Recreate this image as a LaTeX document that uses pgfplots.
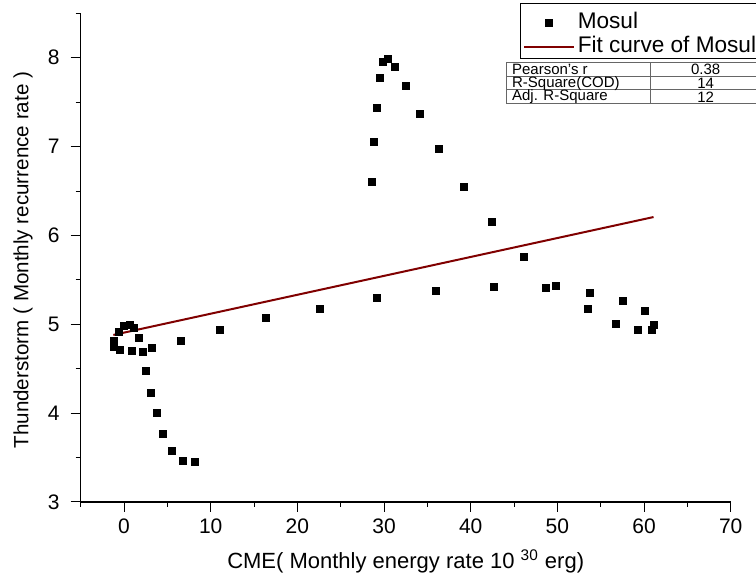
\documentclass[border=0pt]{standalone}
\usepackage{pgfplots}
\pgfplotsset{compat=1.18}
\usepackage{fontspec}
\setmainfont{Liberation Sans}
\definecolor{fitred}{RGB}{128,0,0}
\pgfplotsset{
  legmark/.style={legend image code/.code={\draw[##1] plot coordinates {(12.25pt,0pt)};}},
  legline/.style={legend image code/.code={\draw[##1] (0pt,0pt) -- (24.7pt,0pt);}},
}
\begin{document}
\begin{tikzpicture}
\begin{axis}[
  scale only axis,
  width=325pt, height=244.35pt,
  xmin=-5, xmax=70, ymin=3, ymax=8.5,
  axis x line*=bottom, axis y line*=left,
  axis line style={line width=0.6pt, black},
  xtick={0,10,...,70}, ytick={3,4,...,8},
  minor xtick={-5,5,...,65}, minor ytick={3.5,4.5,...,8.5},
  tick align=outside,
  major tick length=5pt, minor tick length=2.5pt,
  every tick/.style={black, line width=0.5pt},
  tick label style={font=\fontsize{10.5}{12}\selectfont},
  yticklabel style={xshift=-2pt},
  /pgf/number format/assume math mode=true,
  xlabel={CME( Monthly energy rate 10 \textsuperscript{30} erg)},
  ylabel={Thunderstorm ( Monthly recurrence rate )},
  x label style={at={(rel axis cs:0.5,-0.1207)}, anchor=center, font=\fontsize{11}{13}\selectfont},
  y label style={at={(rel axis cs:-0.0888,0.495)}, anchor=center, font=\fontsize{10.3}{12}\selectfont},
  clip=false,
  legend style={at={(rel axis cs:0.6758,1.019)}, anchor=north west, draw=none, fill=none,
    inner xsep=1.5pt, inner ysep=3.8pt, row sep=1.5pt, column sep=1.5pt,
    font=\fontsize{11.3}{13}\selectfont,
    nodes={inner sep=0pt, text height=8.2pt, text depth=2.3pt}},
  legend cell align=left,
]
\addplot[only marks, mark=square*, mark size=1.75pt, mark options={black, fill=black, line width=0.2pt}, legmark]
coordinates {
(-1.23,4.81) (-1.23,4.75) (-0.54,4.71) (-0.66,4.92) (-0.08,4.98) (0.61,4.99)
(1.15,4.96) (1.73,4.85) (0.89,4.70) (2.11,4.69) (3.20,4.74) (2.54,4.48)
(3.08,4.23) (3.73,4.01) (4.50,3.77) (5.50,3.58) (6.77,3.47) (8.10,3.45)
(6.54,4.82) (11.0,4.94) (16.38,5.07) (22.53,5.17) (29.13,5.30) (28.6,6.61)
(28.85,7.06) (29.16,7.44) (29.46,7.78) (29.85,7.95) (30.38,7.99) (31.19,7.90)
(32.46,7.68) (34.15,7.37) (36.34,6.98) (39.2,6.55) (42.46,6.16) (36.0,5.38)
(42.6,5.42) (46.07,5.76) (48.6,5.41) (49.85,5.43) (53.7,5.35) (53.5,5.17)
(57.54,5.26) (56.77,5.01) (60.1,5.15) (59.3,4.94) (60.84,4.94) (61.1,5.00)
};
\addlegendentry{Mosul}
\addplot[fitred, line width=1pt, legline]
coordinates {(-1.23,4.880) (61.1,6.207)};
\addlegendentry{Fit curve of Mosul}
\coordinate (O) at (rel axis cs:0,0);
\end{axis}
\begin{scope}[shift={(O)}, x=0.5pt, y=-0.5pt, shift={(-80.7,-502)}]
  \draw[black, line width=0.5pt] (520,4) rectangle (762,58.5);
  \draw[black!60, line width=0.5pt] (506.7,62.7) rectangle (762,103.7);
  \draw[black!60, line width=0.5pt] (506.7,76.3) -- (762,76.3) (506.7,90) -- (762,90) (650.7,62.7) -- (650.7,103.7);
  \begin{scope}[every node/.style={font=\fontsize{7.5}{8}\selectfont, inner sep=0pt}]
    \node[anchor=west] at (511.7,69.8) {Pearson's r};
    \node[anchor=west] at (511.7,83.4) {R-Square(COD)};
    \node[anchor=west] at (511.7,97.1) {Adj. R-Square};
    \node at (705.7,69.8) {0.38};
    \node at (705.7,83.4) {14};
    \node at (705.7,97.1) {12};
  \end{scope}
  \pgfresetboundingbox
  \path (0,0) rectangle (756,582);
\end{scope}
\end{tikzpicture}
\end{document}
